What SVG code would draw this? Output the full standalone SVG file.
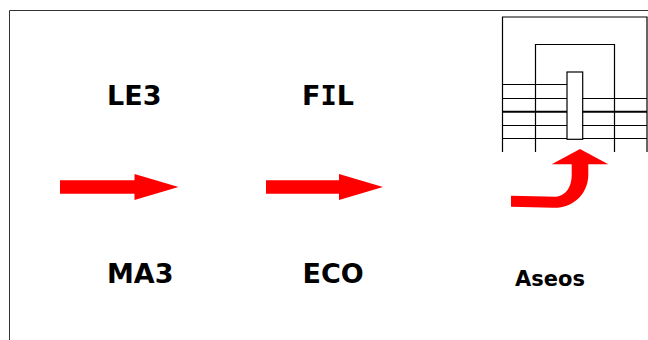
<svg xmlns="http://www.w3.org/2000/svg" width="648" height="340" viewBox="0 0 648 340">
<style>
.ln{fill:none;stroke:#000;stroke-width:1.2}
.ar{fill:#f00;stroke:none}
.t{font-family:"DejaVu Sans",Verdana,sans-serif;font-weight:700;fill:#000;font-size:27px}
.m{font-family:"DejaVu Sans Mono",monospace}
</style>
<rect width="648" height="340" fill="#fff"/>
<path id="frame" d="M9.5 340V10.500H648" fill="none" stroke="#333" stroke-width="1"/>
<g id="building" class="ln">
<path d="M502.500 152V17H647V152"/>
<path d="M535.500 152V44.500H614.500V152"/>
<path d="M502.500 84.500H567M502.500 98.500H647M502.500 125.500H647M502.500 138.500H647"/>
<path d="M502.500 111.800H647" stroke-width="2"/>
<rect x="567" y="72" width="15.700" height="67.300" fill="#fff"/>
</g>
<g id="connectors">
<path class="ar" d="M60 180.300H134.500V174L178.500 187L134.500 200V193.700H60Z"/>
<path class="ar" d="M266 180.300H339V174L383 187L339 200V193.700H266Z"/>
<path class="ar" d="M511 195.700L556 196.700C566 195.500 571.700 187 571.700 175V164.300H551.700L580 149L608.300 164.300H588.300V175C588 195 572 208.500 553 207.800L511 206.700Z"/>
</g>
<g id="le3"><text class="t" x="107" y="105">LE3</text></g>
<g id="fil"><text class="t" x="302" y="105">F<tspan class="m">I</tspan>L</text></g>
<g id="ma3"><text class="t" x="107" y="283">MA3</text></g>
<g id="eco"><text class="t" x="302.500" y="283">ECO</text></g>
<g id="aseos"><text class="t" x="515" y="286" style="font-size:21px">Aseos</text></g>
</svg>
